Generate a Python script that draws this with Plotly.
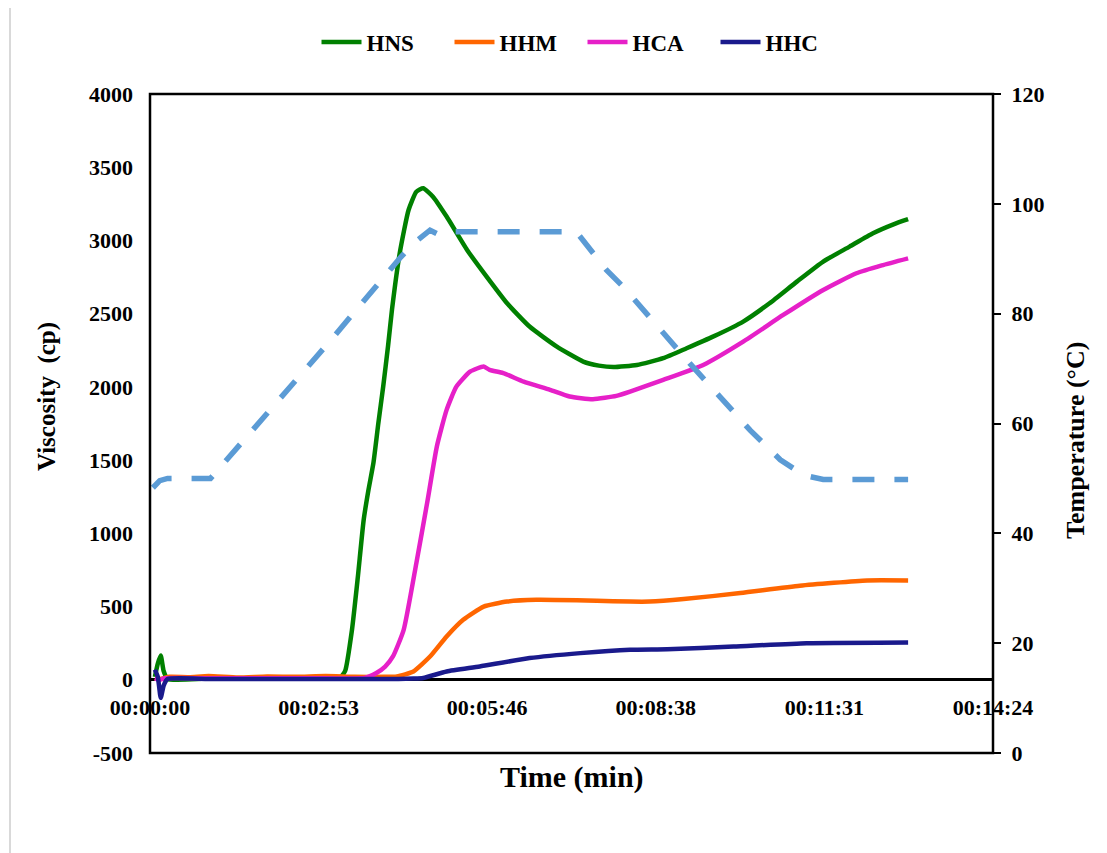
import plotly.graph_objects as go

# ---------------- data (time in seconds) ----------------
tick_vals = [0, 172.8, 345.6, 518.4, 691.2, 864]
tick_text = ["00:00:00", "00:02:53", "00:05:46", "00:08:38", "00:11:31", "00:14:24"]
visc_ticks = [-500, 0, 500, 1000, 1500, 2000, 2500, 3000, 3500, 4000]
visc_labels = ["-500", "0", "500", "1000", "1500", "2000", "2500", "3000", "3500", "4000"]

time_hns = [5, 8, 11, 14, 18, 60, 120, 180, 195, 200, 207, 213, 219, 224, 229, 234, 239, 244, 248,
            256, 265, 273, 280, 290, 304, 325, 345, 366, 389, 417, 444, 460, 475, 499, 526, 550,
            577, 608, 635, 663, 690, 717, 741, 762, 777]
hns = [20, 110, 165, 60, 5, 8, 8, 8, 15, 60, 341, 700, 1092, 1300, 1481, 1750, 2002, 2280, 2526,
       2915, 3208, 3333, 3356, 3299, 3163, 2935, 2753, 2571, 2412, 2275, 2173, 2145, 2135, 2150, 2196, 2264,
       2343, 2446, 2571, 2719, 2856, 2958, 3049, 3110, 3145]

time_hhm = [5, 10, 20, 40, 60, 90, 120, 150, 180, 210, 240, 253, 270, 287, 304, 321, 342, 366, 396,
            458, 492, 512, 547, 605, 666, 735, 777]
hhm = [10, 5, 20, 18, 25, 15, 22, 20, 25, 20, 20, 23, 57, 159, 296, 410, 500, 534, 546,
       540, 534, 534, 551, 592, 642, 678, 678]

time_hca = [5, 10, 15, 60, 120, 180, 220, 232, 241, 249, 260, 273, 284, 294, 304, 314, 328, 342, 348,
            362, 383, 410, 430, 454, 478, 492, 526, 567, 608, 649, 690, 724, 750, 777]
hca = [10, 0, 10, 10, 10, 10, 12, 46, 90, 159, 341, 797, 1206, 1593, 1843, 2002, 2104, 2139, 2116,
       2094, 2036, 1980, 1934, 1916, 1939, 1968, 2048, 2150, 2309, 2491, 2662, 2776, 2830, 2878]

time_hhc = [5, 8, 11, 14, 18, 60, 120, 180, 240, 270, 280, 304, 338, 389, 441, 492, 530, 598, 673, 777]
hhc = [70, 20, -123, -40, 5, 5, 5, 5, 5, 8, 12, 57, 91, 148, 182, 205, 209, 227, 250, 255]

time_temp = [3, 10, 18, 62, 184, 198, 229, 256, 270, 287, 297, 307, 437, 454, 468, 485, 523, 553,
             584, 615, 646, 670, 690, 777]
temp = [48.3, 49.6, 50, 50, 74.9, 77.9, 84.3, 90.1, 92.8, 95.2, 94.3, 94.9, 94.9, 91, 87.9, 84.9, 77, 71,
        64.9, 58.8, 53.4, 50.6, 49.8, 49.8]

FONT = "Liberation Serif"
TICKF = dict(family=FONT, size=22, weight="bold", color="black")

fig = go.Figure()

fig.add_trace(go.Scatter(x=time_temp, y=temp, yaxis="y2", mode="lines", showlegend=False,
                         line=dict(color="#5B9BD5", width=5.5, dash="22px,20px")))

series = [("HNS", time_hns, hns, "#008000"),
          ("HHM", time_hhm, hhm, "#FF6600"),
          ("HCA", time_hca, hca, "#E620C8"),
          ("HHC", time_hhc, hhc, "#1A1A8C")]
for name, t, v, c in series:
    fig.add_trace(go.Scatter(x=t, y=v, name=name, mode="lines",
                             line=dict(color=c, width=4.5, shape="spline", smoothing=0.5)))

fig.update_layout(
    width=1107, height=853,
    margin=dict(l=142, r=122, t=86, b=108, autoexpand=False),
    paper_bgcolor="white", plot_bgcolor="white",
    font=dict(family=FONT, size=20, color="black", weight="bold"),
    showlegend=True,
    legend=dict(orientation="h", x=0.5 + 11 / 843, xanchor="center", y=1 + 52 / 659, yanchor="middle",
                font=dict(family=FONT, size=23, weight="bold"), itemwidth=40,
                entrywidth=78, entrywidthmode="pixels"),
    xaxis=dict(range=[0, 864], tickvals=tick_vals, ticktext=tick_text, showgrid=False,
               zeroline=False, showline=False, ticks="", anchor="free", position=500 / 4500,
               ticklabelstandoff=12, automargin=False, tickfont=TICKF),
    yaxis=dict(range=[-500, 4000], tickvals=visc_ticks, ticktext=visc_labels, showgrid=False,
               zeroline=True, zerolinecolor="black", zerolinewidth=2.5, showline=False, ticks="",
               ticklabelstandoff=16, automargin=False, tickfont=TICKF),
    yaxis2=dict(range=[0, 120], dtick=20, overlaying="y", side="right", showgrid=False,
                zeroline=False, showline=False, ticks="outside", ticklen=7, tickwidth=2,
                tickcolor="black", ticklabelstandoff=6, automargin=False, tickfont=TICKF),
    shapes=[
        dict(type="rect", xref="paper", yref="paper", x0=0, x1=1, y0=0, y1=1,
             line=dict(color="black", width=2.5), layer="above"),
        dict(type="rect", xref="paper", yref="paper", x0=-140 / 843, x1=1.2, y0=-0.2, y1=748 / 659,
             line=dict(color="#D9D9D9", width=2), layer="below"),
    ],
    annotations=[
        dict(text="Time (min)", xref="paper", yref="paper", x=0.5, y=-24 / 659, yanchor="middle",
             showarrow=False, font=dict(family=FONT, size=30, weight="bold")),
        dict(text="Viscosity  (cp)", xref="paper", yref="paper", x=-103 / 843, y=(753 - 397) / 659,
             textangle=-90, showarrow=False, xanchor="center", yanchor="middle",
             font=dict(family=FONT, size=25, weight="bold")),
        dict(text="Temperature (°C)", xref="paper", yref="paper", x=1 + 82 / 843, y=(753 - 441) / 659,
             textangle=-90, showarrow=False, xanchor="center", yanchor="middle",
             font=dict(family=FONT, size=26, weight="bold")),
    ],
)

fig.write_html("out.html")
